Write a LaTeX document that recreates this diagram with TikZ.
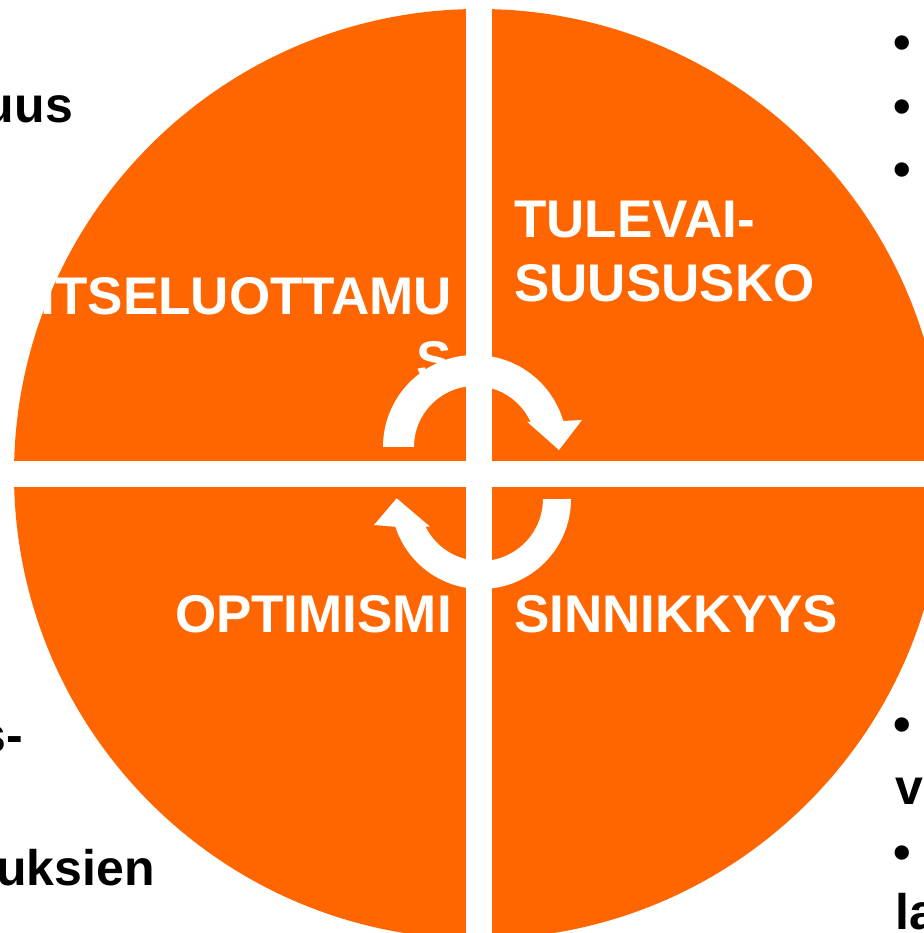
\documentclass[tikz,border=0pt]{standalone}
\usepackage{fontspec}
\setmainfont{Liberation Sans}
\usepackage{xcolor}
\usepackage{tikz}
\definecolor{quadorange}{RGB}{255,102,0}

\begin{document}
\begin{tikzpicture}[x=1pt,y=1pt,
  quad/.style={font=\fontsize{53}{64}\selectfont\bfseries,text=white,inner sep=0pt},
  side/.style={font=\fontsize{50}{63}\selectfont\bfseries,text=black,inner sep=0pt}]
  \useasboundingbox (0,0) rectangle (923,933);
  \fill[quadorange] (479,459) circle (465);
  \fill[white] (466,-10) rectangle (492,945);
  \fill[white] (-10,446) rectangle (935,472);
  \node[quad,anchor=base west,align=left] (tulevaisuus) at (514,631) {TULEVAI-\\SUUSUSKO};
  \node[quad,anchor=base east,align=right] (itseluottamus) at (452,554) {ITSELUOTTAMU\\S};
  \node[quad,anchor=base east] (optimismi) at (452,300) {OPTIMISMI};
  \node[quad,anchor=base west] (sinnikkyys) at (514,300) {SINNIKKYYS};
  \node[side,anchor=base east] (uus) at (73,810) {uus};
  \node[side,anchor=base east] (s) at (23,180) {s-};
  \node[side,anchor=base east] (uksien) at (155,47) {uksien};
  \node[side,anchor=base west] (b1) at (893,873) {•};
  \node[side,anchor=base west] (b2) at (893,809) {•};
  \node[side,anchor=base west] (b3) at (893,746) {•};
  \node[side,anchor=base west] (b4) at (893,191) {•};
  \node[side,anchor=base west] (v) at (895,128) {v};
  \node[side,anchor=base west] (b5) at (893,63) {•};
  \node[side,anchor=base west] (la) at (895,3) {la};
  \fill[white] (383,486) arc[start angle=180,end angle=16.4,radius=92] -- (582,513) -- (559,483)
    -- (527,511.3) -- (530.6,511) arc[start angle=24.2,end angle=180,radius=61] -- cycle;
  \fill[white] (571,434) arc[start angle=0,end angle=-162,radius=90] -- (374,408) -- (396.7,434.7)
    -- (430,406.3) -- (425.5,406.3) arc[start angle=-153.5,end angle=0,radius=62] -- cycle;
\end{tikzpicture}
\end{document}
